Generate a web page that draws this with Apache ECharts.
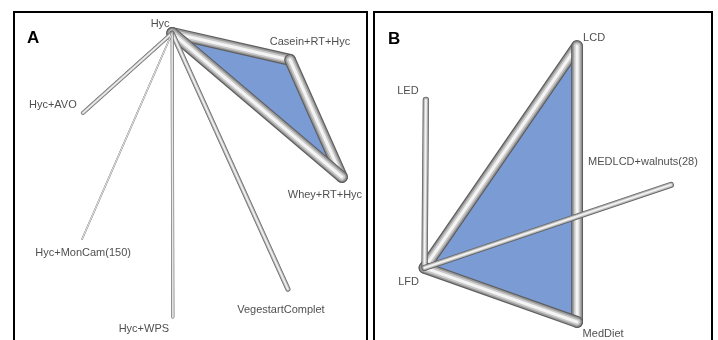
<!DOCTYPE html>
<html>
<head>
<meta charset="utf-8">
<script src="https://cdn.jsdelivr.net/npm/echarts@6/dist/echarts.min.js"></script>
<style>
  html, body { margin: 0; padding: 0; background: #fff; }
  #chart { width: 718px; height: 340px; }
</style>
</head>
<body>
<div id="chart"></div>
<script>
// Network A: treatments, layout positions (0-100 units) and comparisons
const namesA = ['Hyc', 'Casein+RT+Hyc', 'Whey+RT+Hyc', 'Hyc+AVO', 'Hyc+MonCam(150)', 'Hyc+WPS', 'VegestartComplet'];
const posXA = [44.8, 78.2, 92.9, 19.5, 19.3, 45.0, 77.6];
const posYA = [93.6, 85.4, 49.7, 69.2, 30.8, 7.0, 15.5];
const edgesA = [
  ['Hyc', 'Casein+RT+Hyc'],
  ['Casein+RT+Hyc', 'Whey+RT+Hyc'],
  ['Hyc', 'Whey+RT+Hyc'],
  ['Hyc', 'VegestartComplet'],
  ['Hyc', 'Hyc+AVO'],
  ['Hyc', 'Hyc+WPS'],
  ['Hyc', 'Hyc+MonCam(150)']
];
const weightsA = [5.4, 5.4, 5.4, 2.3, 1.8, 1.4, 0.7];
const loopsA = [['Hyc', 'Casein+RT+Hyc', 'Whey+RT+Hyc']];

// Network B
const namesB = ['LCD', 'LED', 'LFD', 'MedDiet', 'MEDLCD+walnuts(28)'];
const posXB = [60.2, 15.6, 15.2, 60.2, 87.9];
const posYB = [89.6, 73.2, 22.0, 5.5, 47.3];
const edgesB = [
  ['LCD', 'LFD'],
  ['LCD', 'MedDiet'],
  ['LFD', 'MedDiet'],
  ['LED', 'LFD'],
  ['LFD', 'MEDLCD+walnuts(28)']
];
const weightsB = [5.4, 5.4, 5.4, 2.9, 2.7];
const loopsB = [['LFD', 'LCD', 'MedDiet']];

// Label placement around each node, in pixels
const labelOffset = {
  'Hyc': [-12, -9],
  'Casein+RT+Hyc': [20, -18],
  'Whey+RT+Hyc': [-17, 18],
  'Hyc+AVO': [-30, -8],
  'Hyc+MonCam(150)': [1, 14],
  'Hyc+WPS': [-29, 12],
  'VegestartComplet': [-7, 21],
  'LCD': [17, -8],
  'LED': [-18, -9],
  'LFD': [-16, 14],
  'MedDiet': [26, 12],
  'MEDLCD+walnuts(28)': [-28, -23]
};

const WIDTH_PER_UNIT = 2.2;
const TUBE = [
  { f: 1.0, c: '#5e5e5e' },
  { f: 0.8, c: '#9a9a9a' },
  { f: 0.55, c: '#c9c9c9' },
  { f: 0.26, c: '#f4f4f4' }
];

function lookup(names, xs, ys) {
  const m = {};
  names.forEach((n, i) => { m[n] = [xs[i], ys[i]]; });
  return m;
}

function buildSeries(idx, names, xs, ys, edges, weights, loops) {
  const pos = lookup(names, xs, ys);
  const loopData = loops.map(l => [].concat(...l.map(n => pos[n])));
  const edgeData = edges.map((e, i) => [pos[e[0]][0], pos[e[0]][1], pos[e[1]][0], pos[e[1]][1], weights[i]]);
  return [
    {
      type: 'custom',
      xAxisIndex: idx, yAxisIndex: idx,
      z: 1,
      silent: true,
      data: loopData,
      renderItem: function (params, api) {
        const pts = [];
        for (let k = 0; k < 3; k++) pts.push(api.coord([api.value(2 * k), api.value(2 * k + 1)]));
        return { type: 'polygon', shape: { points: pts }, style: { fill: '#7b9bd5', stroke: null } };
      }
    },
    {
      type: 'custom',
      xAxisIndex: idx, yAxisIndex: idx,
      z: 2,
      silent: true,
      data: edgeData,
      renderItem: function (params, api) {
        const p1 = api.coord([api.value(0), api.value(1)]);
        const p2 = api.coord([api.value(2), api.value(3)]);
        const w = api.value(4) * WIDTH_PER_UNIT;
        return {
          type: 'group',
          children: TUBE.map(t => ({
            type: 'line',
            shape: { x1: p1[0], y1: p1[1], x2: p2[0], y2: p2[1] },
            style: { stroke: t.c, lineWidth: Math.max(w * t.f, 0.6), lineCap: 'round', lineJoin: 'round' }
          }))
        };
      }
    },
    {
      type: 'scatter',
      xAxisIndex: idx, yAxisIndex: idx,
      z: 3,
      silent: true,
      symbolSize: 0,
      data: names.map((n, i) => ({
        name: n,
        value: [xs[i], ys[i]],
        label: { offset: labelOffset[n] }
      })),
      label: {
        show: true,
        position: 'inside',
        formatter: '{b}',
        fontFamily: 'Liberation Sans, Arial, sans-serif',
        fontSize: 11,
        color: '#222222',
        align: 'center',
        verticalAlign: 'middle'
      }
    }
  ];
}

const axisCommon = { type: 'value', min: 0, max: 100, show: false };

const chart = echarts.init(document.getElementById('chart'), null, { renderer: 'canvas' });
chart.setOption({
  animation: false,
  backgroundColor: '#ffffff',
  grid: [
    { left: 14, top: 12, width: 353, height: 328 },
    { left: 373, top: 12, width: 339, height: 328 }
  ],
  xAxis: [Object.assign({ gridIndex: 0 }, axisCommon), Object.assign({ gridIndex: 1 }, axisCommon)],
  yAxis: [Object.assign({ gridIndex: 0 }, axisCommon), Object.assign({ gridIndex: 1 }, axisCommon)],
  graphic: [
    { type: 'rect', shape: { x: 14, y: 12, width: 353, height: 340 }, style: { fill: 'none', stroke: '#000', lineWidth: 2 }, z: 10 },
    { type: 'rect', shape: { x: 374, y: 12, width: 338, height: 340 }, style: { fill: 'none', stroke: '#000', lineWidth: 2 }, z: 10 },
    { type: 'text', left: 27, top: 30, style: { text: 'A', font: 'bold 17px Liberation Sans, Arial, sans-serif', fill: '#000' }, z: 10 },
    { type: 'text', left: 388, top: 31, style: { text: 'B', font: 'bold 17px Liberation Sans, Arial, sans-serif', fill: '#000' }, z: 10 }
  ],
  series: [].concat(
    buildSeries(0, namesA, posXA, posYA, edgesA, weightsA, loopsA),
    buildSeries(1, namesB, posXB, posYB, edgesB, weightsB, loopsB)
  )
});
</script>
</body>
</html>
